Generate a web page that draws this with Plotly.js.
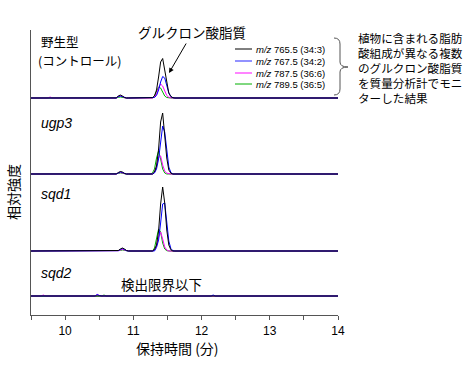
<!DOCTYPE html>
<html><head><meta charset="utf-8">
<script src="https://cdn.plot.ly/plotly-3.0.1.min.js"></script>
<style>html,body{margin:0;padding:0;background:#fff}#c{width:473px;height:367px}</style>
</head><body><div id="c"></div>
<script>
// retention time grid (min)
const rt = [9.5,9.65,9.68,9.71,9.75,9.78,9.81, 10.40,10.44,10.47,10.50,10.54,10.57,10.60,
  10.72,10.75,10.78,10.81,10.84,10.87,10.90,10.93,
  11.25,11.28,11.31,11.34,11.37,11.40,11.43,11.46,11.49,11.52,11.55,11.58,11.61,
  12.10,12.14,12.17,12.20,14.0];
const samples = ["野生型", "ugp3", "sqd1", "sqd2"];
const ions = ["765.5 (34:3)", "767.5 (34:2)", "787.5 (36:6)", "789.5 (36:5)"];
const ionColors = ["#000000", "#0000ff", "#ff00ff", "#00b000"];
const legendColors = ["#000000", "#7777ff", "#ff66ff", "#00b000"];
// relative intensities per sample, per ion (same order as ions)
const wt_765 = [0,0,0,0,0,0,0, 0,0,0,0,0,0,0, 0,0,2,3,2,0.5,0,0, 0,0.3,2,8,21,36,39.5,28,14,5,1.5,0.3,0, 0,0,0,0,0];
const wt_767 = [0,0,0,0,0,0,0, 0,0,0,0,0,0,0, 0,0,1.5,2,1.5,0.5,0,0, 0,0,0.5,2.5,8,16,21.5,20,12,5,1.5,0.3,0, 0,0,0,0,0];
const wt_787 = [0,0,0,0,0,1,0, 0,0,0,0,0,0,0, 0,0,1.5,2,1.5,0.3,0,0, 0,0,1,4,10,14,12,6.5,2.5,0.7,0,0,0, 0,0,0,0,0];
const wt_789 = [0,0,0,0,0,0,0, 0,0,0,0,0,0,0, 0,0,0.5,1,0.5,0,0,0, 0,0.3,2,6.5,11,10,5.5,2,0.5,0,0,0,0, 0,0,0,0,0];
const ugp3_765 = [0,0,0,0,0,0,0, 0,0,0,0,0,0,0, 0,0,1.5,2.5,2,0.5,0,0, 0,0,2,8,25,52,61,40,16,4,0.8,0,0, 0,0,0,0,0];
const ugp3_767 = [0,0,0,0,0,0,0, 0,0,0,0,0,0,0, 0,0,1,2,1.5,0.5,0,0, 0,0,1,5,15,33,48,42,22,7,1.5,0,0, 0,0,0,0,0];
const ugp3_787 = [0,0,0,0,0,0,0, 0,0,0,0,0,0,0, 0,0,1,1.5,1,0.3,0,0, 0,0,2,8,17,18,9,3,0.8,0,0,0,0, 0,0,0,0,0];
const ugp3_789 = [0,0,0,0,0,0,0, 0,0,0,0,0,0,0, 0,0,0.5,1,0.5,0,0,0, 0,1,5,16,23,15,5,1,0,0,0,0,0, 0,0,0,0,0];
const sqd1_765 = [0,0,0,0,0,0,0, 0,0,0,0,0,0,0, 0,0,0.5,2,3,2,0.5,0, 0,0,1.5,6,20,47,64,48,21,6,1.2,0,0, 0,0,0,0,0];
const sqd1_767 = [0,0,0,0,0,0,0, 0,0,0,0,0,0,0, 0,0,0.3,1.5,2.5,1.5,0.3,0, 0,0,0,3.5,11,28,47,48,28,10,2.5,0.3,0, 0,0,0,0,0];
const sqd1_787 = [0,0,0,0,0,0,0, 0,0,0,0,0,0,0, 0,0,0.3,1,1.5,1,0.3,0, 0,0,1,5,14,19,12,4,1,0,0,0,0, 0,0,0,0,0];
const sqd1_789 = [0,0,0,0,0,0,0, 0,0,0,0,0,0,0, 0,0,0,0.5,1,0.5,0,0, 0,0,3,11,22,19,8,2,0.3,0,0,0,0, 0,0,0,0,0];
const sqd2_765 = [0,0,0,0,0,0,0, 0,0,0,0,0,0,0, 0,0,0,0,0,0,0,0, 0,0,0,0,0,0,0,0,0,0,0,0,0, 0,0,0,0,0];
const sqd2_767 = [0,0,0,0,0,0,0, 0,0,1.5,0.5,0,0,0, 0,0,0,0,0,0,0,0, 0,0,0,0,0,0,0,0,0,0,0,0,0, 0,0,1,0,0];
const sqd2_787 = [0,0,1,0,0,0,0, 0,0,1.5,0.5,0,0,0, 0,0,0,0,0,0,0,0, 0,0,0,0,0,0,0,0,0,0,0,0,0, 0,0,0,0,0];
const sqd2_789 = [0,0,0,0,0,0,0, 0,0,0,0,0,1,0, 0,0,0,0,0,0,0,0, 0,0,0,0,0,0,0,0,0,0,0,0,0, 0,0,0,0,0];
const sampleData = [
  [wt_765, wt_767, wt_787, wt_789],
  [ugp3_765, ugp3_767, ugp3_787, ugp3_789],
  [sqd1_765, sqd1_767, sqd1_787, sqd1_789],
  [sqd2_765, sqd2_767, sqd2_787, sqd2_789]
];
const baselines = [217, 141, 64, 19]; // vertical offset of each chromatogram

const traces = [];
const drawOrder = [3, 2, 1, 0];
sampleData.forEach((set, s) => {
  drawOrder.forEach(i => {
    traces.push({
      x: rt, y: set[i].map(v => v + baselines[s]),
      type: 'scatter', mode: 'lines',
      line: {color: ionColors[i], width: 1},
      showlegend: false, hoverinfo: 'skip'
    });
  });
});

const L = 31, R = 338, T = 30, B = 315;
const PX = x => (x - L) / (R - L);
const PY = y => (B - y) / (B - T);
const JP = "Noto Sans CJK JP";
const LAT = "Liberation Sans, Arial, sans-serif";

const ann = [];
const shapes = [];
function txt(text, x, y, size, family, anchor, extra) {
  ann.push(Object.assign({text: text, xref: 'paper', yref: 'paper', x: PX(x), y: PY(y),
    xanchor: anchor || 'left', yanchor: 'middle', showarrow: false, align: 'left',
    font: {size: size, family: family, color: '#000'}}, extra || {}));
}
txt(samples[0], 39, 41.8, 12.5, JP);
txt("(コントロール)", 36, 60.4, 12.5, JP);
txt("<i>" + samples[1] + "</i>", 39, 123, 14, LAT);
txt("<i>" + samples[2] + "</i>", 39, 194, 14, LAT);
txt("<i>" + samples[3] + "</i>", 39, 273, 14, LAT);
txt("検出限界以下", 161, 284, 13.5, JP, 'center');
txt("グルクロン酸脂質", 192, 32, 13.5, JP, 'center');
ann.push({text: '', xref: 'paper', yref: 'paper', x: PX(169), y: PY(73), axref: 'pixel', ayref: 'pixel',
  ax: 18, ay: -31, showarrow: true, arrowhead: 2, arrowsize: 1, arrowwidth: 1, arrowcolor: '#000'});
const legY = [49, 61, 73, 84];
ions.forEach((lab, i) => {
  shapes.push({type: 'line', xref: 'paper', yref: 'paper', x0: PX(235), x1: PX(252), y0: PY(legY[i]), y1: PY(legY[i]),
    line: {color: legendColors[i], width: (i === 1 || i === 2) ? 1.6 : 1}});
  txt("<i>m/z</i> " + lab, 254, legY[i], 9.5, LAT);
});
shapes.push({type: 'path', xref: 'paper', yref: 'paper', line: {color: '#555', width: 1},
  path: `M ${PX(334)},${PY(38)} Q ${PX(340)},${PY(38)} ${PX(340)},${PY(44)} L ${PX(340)},${PY(62)} Q ${PX(340)},${PY(67)} ${PX(348)},${PY(67)} Q ${PX(340)},${PY(67)} ${PX(340)},${PY(72)} L ${PX(340)},${PY(89)} Q ${PX(340)},${PY(95)} ${PX(334)},${PY(95)}`});
const noteLines = ["植物に含まれる脂肪", "酸組成が異なる複数", "のグルクロン酸脂質", "を質量分析計でモニ", "ターした結果"];
txt(noteLines.join("<br>"), 356, 68, 11.6, JP);
txt("保持時間 (分)", 177, 348, 14, JP, 'center');
txt("相対強度", 13, 192, 14, JP, 'center', {textangle: -90});

const layout = {
  width: 473, height: 367,
  margin: {l: L, r: 473 - R, t: T, b: 367 - B, pad: 0},
  paper_bgcolor: '#fff', plot_bgcolor: '#fff',
  xaxis: {range: [9.5, 14], showgrid: false, zeroline: false, showline: true, linecolor: '#555', linewidth: 1.2,
    tickvals: [10, 11, 12, 13, 14], ticktext: ['10', '11', '12', '13', '14'], ticks: 'outside', ticklen: 4, tickcolor: '#555',
    minor: {tickvals: [9.5, 10.5, 11.5, 12.5, 13.5], ticks: 'outside', ticklen: 4, tickcolor: '#555'},
    tickfont: {size: 12, family: LAT, color: '#000'}, fixedrange: true},
  yaxis: {range: [0, 285], showgrid: false, zeroline: false, showline: true, linecolor: '#555', linewidth: 1.2,
    showticklabels: false, ticks: '', fixedrange: true},
  annotations: ann, shapes: shapes, showlegend: false
};
Plotly.newPlot('c', traces, layout, {staticPlot: true, displayModeBar: false});
</script></body></html>
